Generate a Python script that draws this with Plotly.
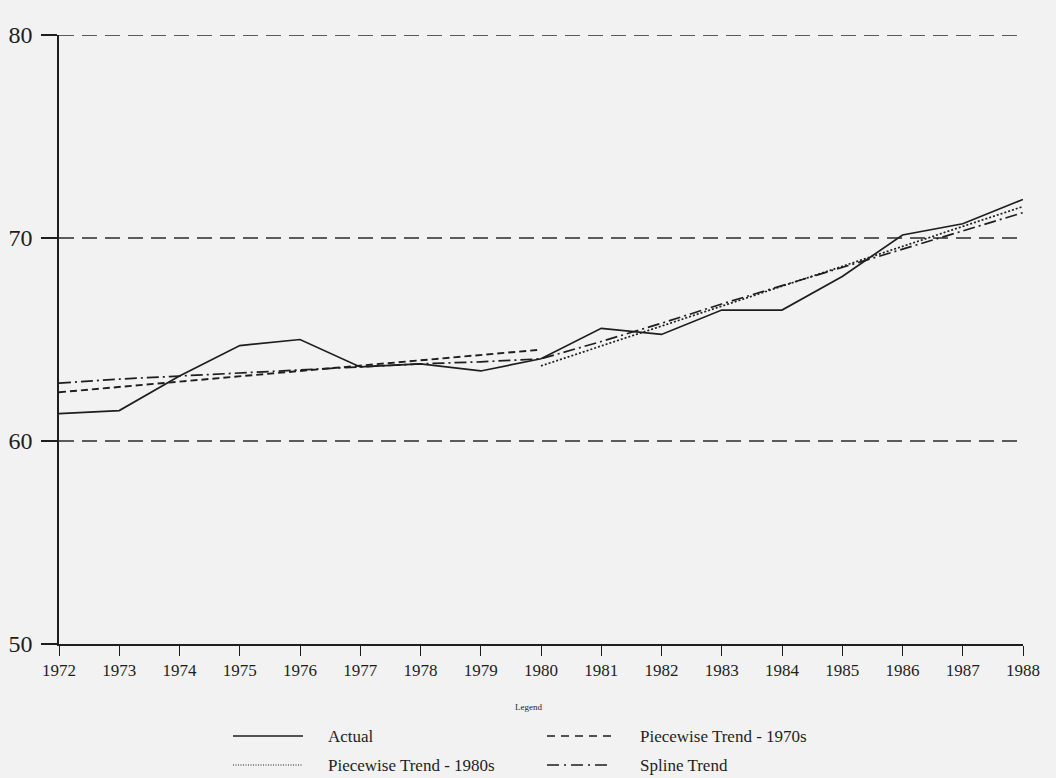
import plotly.graph_objects as go

years = list(range(1972, 1989))
actual = [61.35, 61.5, 63.2, 64.7, 65.0, 63.65, 63.8, 63.45, 64.05,
          65.55, 65.25, 66.45, 66.45, 68.1, 70.15, 70.7, 71.9]
trend70_years = [1972, 1980]
trend70 = [62.4, 64.5]
trend80_years = [1980, 1988]
trend80 = [63.7, 71.55]
spline = [62.85, 63.05, 63.2, 63.35, 63.5, 63.65, 63.8, 63.9, 64.05,
          64.9, 65.8, 66.75, 67.65, 68.55, 69.45, 70.35, 71.25]
y_ticks = [50, 60, 70, 80]
grid_values = [60, 70, 80]

ink = "#1e1e1e"
font = "Liberation Serif"

fig = go.Figure()
fig.add_trace(go.Scatter(x=years, y=actual, mode="lines", name="Actual",
                         line=dict(color=ink, width=1.7)))
fig.add_trace(go.Scatter(x=trend70_years, y=trend70, mode="lines", name="Piecewise Trend - 1970s",
                         line=dict(color=ink, width=1.9, dash="7px,4px")))
fig.add_trace(go.Scatter(x=trend80_years, y=trend80, mode="lines", name="Piecewise Trend - 1980s",
                         line=dict(color=ink, width=1.7, dash="2px,2px")))
fig.add_trace(go.Scatter(x=years, y=spline, mode="lines", name="Spline Trend",
                         line=dict(color=ink, width=1.7, dash="12px,4px,2px,4px")))

for g in grid_values:
    fig.add_hline(y=g, line=dict(color="#2a2a2a", width=1.5, dash="15px,8px"), layer="below")

fig.update_layout(
    width=1056, height=778,
    margin=dict(l=59, r=33, t=35, b=134, autoexpand=False),
    paper_bgcolor="#f2f2f2", plot_bgcolor="#f2f2f2",
    showlegend=False,
    font=dict(family=font, color=ink),
    xaxis=dict(range=[1972, 1988], tickmode="array", tickvals=years,
               ticktext=[str(y) for y in years], automargin=False,
               showgrid=False, zeroline=False, showline=True, linecolor=ink, linewidth=1.5,
               ticks="outside", ticklen=10, tickwidth=1.3, tickcolor=ink,
               tickfont=dict(family=font, size=17, color=ink)),
    yaxis=dict(range=[50, 80], tickmode="array", tickvals=y_ticks, automargin=False,
               showgrid=False, zeroline=False, showline=True, linecolor=ink, linewidth=1.5,
               ticks="outside", ticklen=16, tickwidth=1.5, tickcolor=ink,
               ticklabelstandoff=4,
               tickfont=dict(family=font, size=24, color=ink)),
)

# custom legend
W, H = 1056, 778
L, R, T, B = 59, 33, 35, 134
pw, ph = W - L - R, H - T - B

def px(xp):
    return (xp - L) / pw

def py(yp):
    return (H - B - yp) / ph

fig.add_annotation(x=px(528), y=py(707), xref="paper", yref="paper", text="Legend",
                   showarrow=False, xanchor="center", yanchor="middle",
                   font=dict(size=9, family=font, color=ink))
items = [
    ("Actual", 233, 303, 326, 736, "solid", 1.5),
    ("Piecewise Trend - 1970s", 547, 612, 638, 736, "8px,6px", 1.6),
    ("Piecewise Trend - 1980s", 233, 303, 326, 765, "1px,1.5px", 1.2),
    ("Spline Trend", 547, 612, 638, 765, "12px,5px,2px,5px", 1.6),
]
for label, x0, x1, xt, yy, dash, w in items:
    fig.add_shape(type="line", xref="paper", yref="paper",
                  x0=px(x0), x1=px(x1), y0=py(yy), y1=py(yy),
                  line=dict(color=ink, width=w, dash=dash))
    fig.add_annotation(x=px(xt), y=py(yy), xref="paper", yref="paper", text=label,
                       showarrow=False, xanchor="left", yanchor="middle",
                       font=dict(size=17, family=font, color=ink))

fig.write_html("out.html", config={"displayModeBar": False},
               post_script="document.body.style.margin='0px';")
